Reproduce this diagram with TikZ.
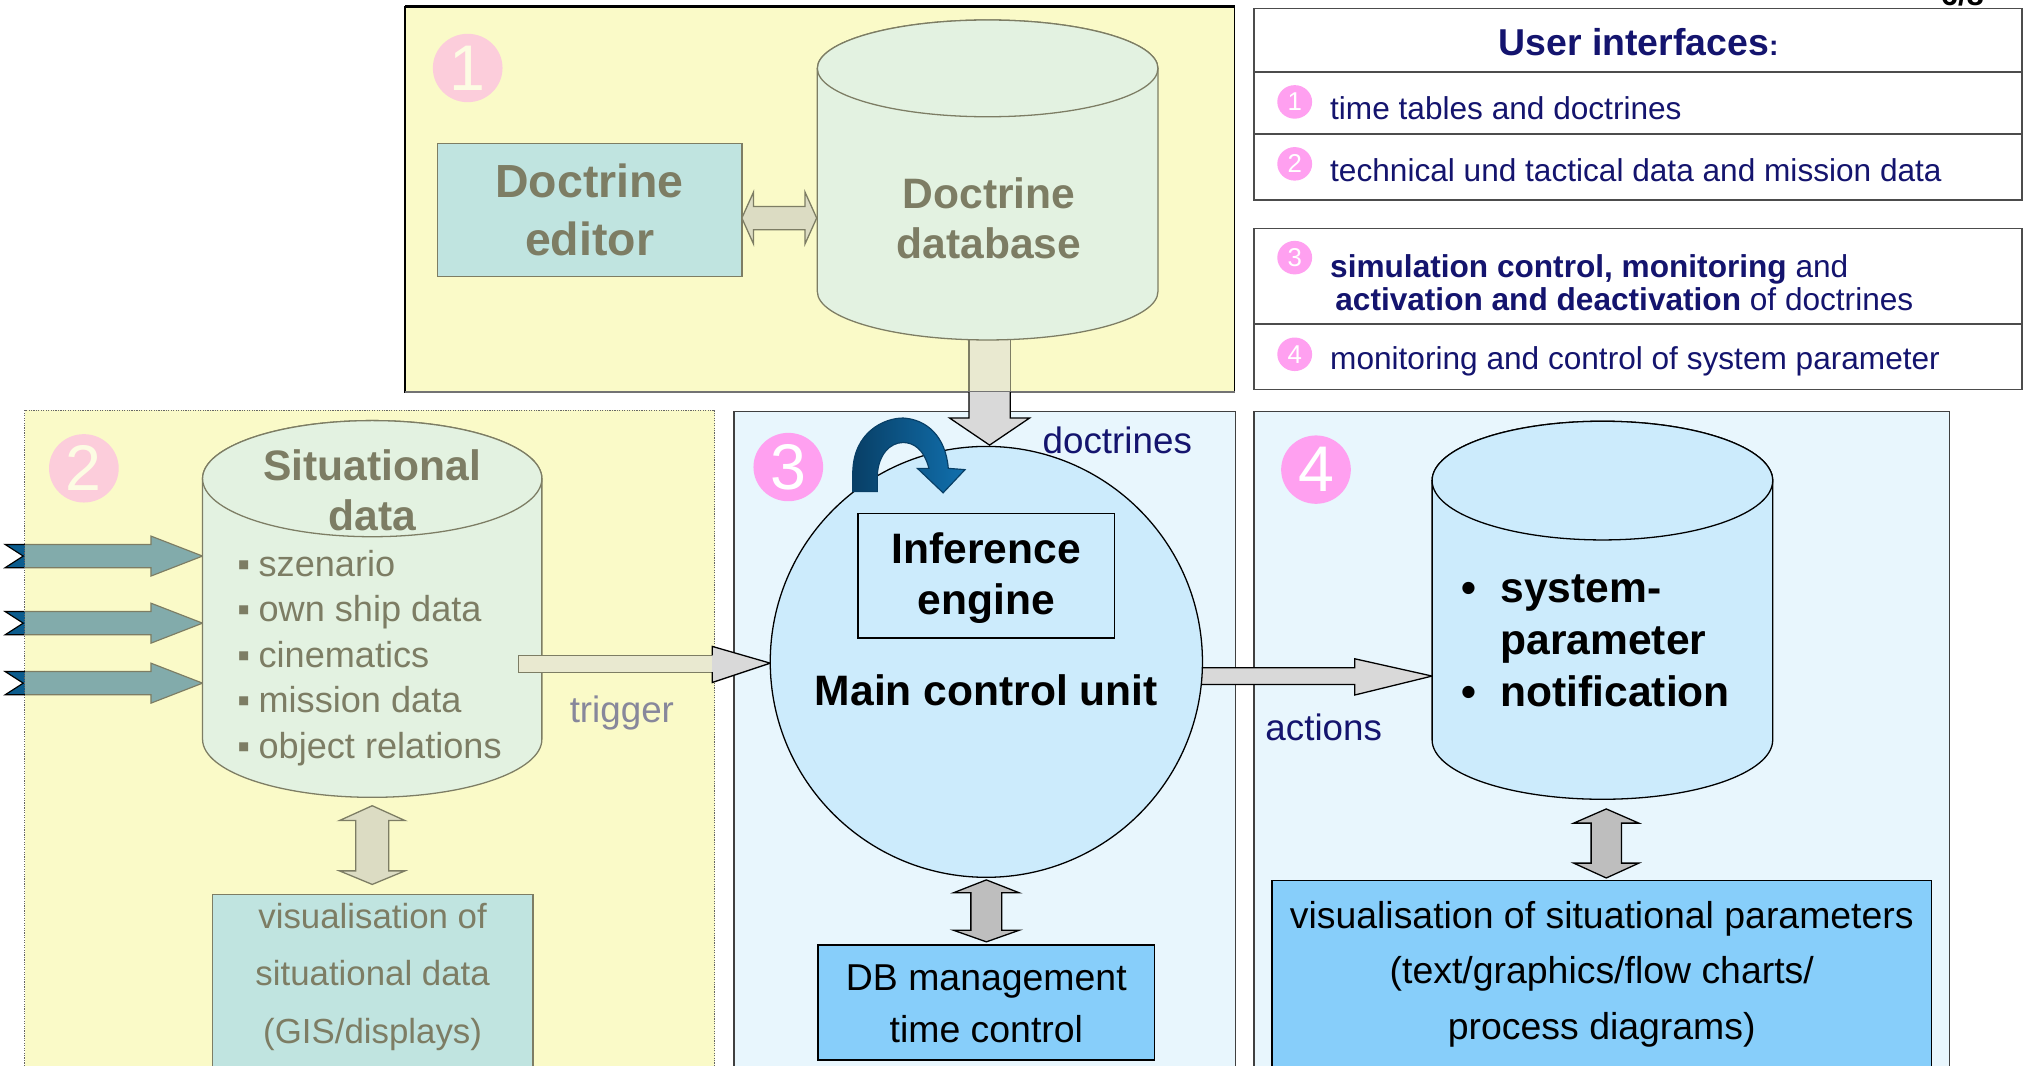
\documentclass[tikz,border=0pt]{standalone}
\usepackage{fontspec}
\setmainfont{Liberation Sans}
\usetikzlibrary{shapes.geometric}
\definecolor{pyel}{HTML}{FAFAC8}
\definecolor{pblue}{HTML}{E8F6FD}
\definecolor{cylb}{HTML}{CCEBFC}
\definecolor{boxb}{HTML}{87CEFA}
\definecolor{agrey}{HTML}{D9D9D9}
\definecolor{dgrey}{HTML}{BEBEBE}
\definecolor{navy}{HTML}{14146E}
\definecolor{pinkc}{HTML}{FFA0F0}
\definecolor{arrowblue}{HTML}{0B5C8E}
\definecolor{arrowdark}{HTML}{083F66}
\definecolor{arrowlight}{HTML}{1170AE}
\newcommand\fsz[2]{\fontsize{#1}{#2}\selectfont}
% cylinder: cx, rx, ry, ytop, ybottom, style
\newcommand\cylshape[6]{%
  \path[#6] (#1-#2,#4) -- (#1-#2,#5) arc[start angle=180,end angle=0,x radius=#2,y radius=#3]
     -- (#1+#2,#4) arc[start angle=0,end angle=-180,x radius=#2,y radius=#3] -- cycle;
  \path[#6] (#1,#4) ellipse [x radius=#2, y radius=#3];}
% vertical double arrow: cx, shaft half, head half, tip1, base1, base2, tip2, style
\newcommand\vdarrow[8]{%
  \path[#8] (#1,#4) -- (#1+#3,#5) -- (#1+#2,#5) -- (#1+#2,#6) -- (#1+#3,#6) -- (#1,#7)
     -- (#1-#3,#6) -- (#1-#2,#6) -- (#1-#2,#5) -- (#1-#3,#5) -- cycle;}
% incoming notched arrow: name, centre y
\newcommand\inarrow[2]{%
  \path[draw=black, line width=0.9pt, fill=arrowblue] (4,#2-9) -- (117,#2-9) -- (117,#2-15.5) -- (157,#2)
     -- (117,#2+15.5) -- (117,#2+9) -- (4,#2+9) -- (18,#2) -- cycle;
  \coordinate (#1) at (157,#2);}
\begin{document}
\begin{tikzpicture}[x=1pt,y=-1pt,
  txt/.style={inner sep=0pt, outer sep=0pt},
  navytxt/.style={txt, text=navy},
  pinkdot/.style={ellipse, fill=pinkc, text=white, inner sep=0pt},
  tbl/.style={draw=black!70, line width=1.2pt, fill=white},
  panelline/.style={draw=black!75, line width=1.3pt},
  grayarrow/.style={fill=agrey, draw=black, line width=1pt},
  dblarrow/.style={fill=dgrey, draw=black, line width=1pt},
  bluebox/.style={draw=black, line width=1pt, fill=boxb},
  cylstyle/.style={draw=black, line width=1pt, fill=cylb},
  rowtxt/.style={navytxt, anchor=west, font=\fsz{24.5}{26}, align=left},
  tnum/.style={pinkdot, minimum width=27pt, minimum height=26pt, font=\fsz{20}{20}},
  bignum/.style={pinkdot, minimum width=54pt, minimum height=53pt, font=\fsz{50}{50}},
]
\useasboundingbox (0,0) rectangle (1568,826);

% ---------- panel fills ----------
\fill[pyel] (314,5) rectangle (957,304);
\fill[pyel] (19,318) rectangle (554,830);
\path[fill=pblue, panelline] (569,319) rectangle (957.5,830);
\path[fill=pblue, panelline] (972,319) rectangle (1511,830);

% ---------- partial page number ----------
\node[txt, anchor=base, font=\fsz{24}{24}\bfseries] (pgno) at (1521,4) {6/8};

% ---------- user interface tables ----------
\path[tbl] (972,6.5) rectangle (1567.3,155);
\draw[draw=black!70, line width=1.2pt] (972,55.6) -- (1567.3,55.6);
\draw[draw=black!70, line width=1.2pt] (972,104) -- (1567.3,104);
\node[navytxt, font=\fsz{29}{34}\bfseries] (uititle) at (1270,32.5) {User interfaces\fsz{22}{26}:};
\node[tnum] (n1) at (1003.5,79) {1};
\node[rowtxt] (r1) at (1031,84) {time tables and doctrines};
\node[tnum] (n2) at (1003.5,127) {2};
\node[rowtxt] (r2) at (1031,131.8) {technical und tactical data and mission data};

\path[tbl] (972,177) rectangle (1567.3,302);
\draw[draw=black!70, line width=1.2pt] (972,251) -- (1567.3,251);
\node[tnum] (n3) at (1003.5,199.7) {3};
\node[rowtxt] (r3) at (1031,219) {\textbf{simulation control, monitoring} and\\\hspace{4pt}\textbf{activation and deactivation} of doctrines};
\node[tnum] (n4) at (1003.5,274.6) {4};
\node[rowtxt] (r4) at (1031,280) {monitoring and control of system parameter};

% ---------- panel 1 content (faded later) ----------
\node[bluebox, minimum width=236pt, minimum height=103.5pt, inner sep=0pt] (editor) at (457,162.75) {};
\node[txt, font=\fsz{36}{45}\bfseries, align=center] (editortxt) at (editor.center) {Doctrine\\editor};
\path[dblarrow] (575,169) -- (584,149) -- (584,160) -- (624,160) -- (624,149) -- (633,169)
   -- (624,189) -- (624,178) -- (584,178) -- (584,189) -- cycle;
\path[grayarrow] (751,240) -- (751,304) -- (783,304) -- (783,240) -- cycle;
\cylshape{765.5}{132}{37.5}{53}{226}{cylstyle}
\node[txt, font=\fsz{33}{39}\bfseries, align=center] (dbtxt) at (766.5,169) {Doctrine\\database};
\node[bignum] (p1) at (362.5,52.7) {1};

% ---------- panel 2 content (faded later) ----------
\inarrow{in1}{431}
\inarrow{in2}{483}
\inarrow{in3}{529.5}
\node[bignum] (p2) at (65,363) {2};
\cylshape{288.5}{131.5}{45}{371}{573}{cylstyle}
\node[txt, font=\fsz{33}{39.5}\bfseries, align=center] (sittitle) at (288.5,380) {Situational\\data};
\node[txt, anchor=west, align=left, font=\fsz{28}{35.3}] (sitlist) at (184,510) {%
\makebox[16.5pt][l]{▪}szenario\\
\makebox[16.5pt][l]{▪}own ship data\\
\makebox[16.5pt][l]{▪}cinematics\\
\makebox[16.5pt][l]{▪}mission data\\
\makebox[16.5pt][l]{▪}object relations};
\vdarrow{288.5}{12.8}{25.4}{624.5}{636}{675}{685.5}{dblarrow}
\node[bluebox, minimum width=248.5pt, minimum height=160pt, inner sep=0pt, anchor=north] (visL) at (288.8,692.6) {};
\node[txt, font=\fsz{27}{44.5}, align=center] (visLtxt) at (288.8,757) {visualisation of\\situational data\\(GIS/displays)};
\path[grayarrow] (402,508) -- (552,508) -- (552,521) -- (402,521) -- cycle;
\node[navytxt, font=\fsz{28.5}{30}] (trig) at (482,553) {trigger};

% ---------- fading overlays ----------
\fill[pyel, opacity=0.5] (314,5) rectangle (957,304);
\fill[pyel, opacity=0.5] (19,318) rectangle (554,830);

% ---------- panel 1 / 2 borders ----------
\draw[black, line width=1.1pt] (314,5) rectangle (957,304);
\draw[black, line width=2.4pt] (314,5) -- (957,5);
\draw[black!55, line width=1.8pt] (314,304) -- (957,304);
\draw[black!60, line width=0.9pt, densely dotted] (19,318) rectangle (554,830);

% ---------- panel 3 ----------
\path[grayarrow] (751,304) -- (751,324) -- (736,324) -- (767,345) -- (798,324) -- (783,324) -- (783,304);
\path[grayarrow] (552,508) -- (552,501) -- (597,514) -- (552,529) -- (552,521);
\path[grayarrow] (925,517.5) -- (1050,517.5) -- (1050,510.6) -- (1110,524) -- (1050,538.7) -- (1050,530.6) -- (925,530.6) -- cycle;
\node[ellipse, draw=black, line width=1pt, fill=cylb, minimum width=335pt, minimum height=334pt, inner sep=0pt] (mcu) at (764.5,513) {};
\node[draw=black, line width=1pt, fill=cylb, minimum width=199pt, minimum height=96.5pt, inner sep=0pt] (inf) at (764.5,446.25) {};
\node[txt, font=\fsz{33}{40}\bfseries, align=center] (inftxt) at (764.5,448) {Inference\\engine};
\node[txt, font=\fsz{33}{40}\bfseries] (mcutxt) at (764.5,535) {Main control unit};
\path[draw=arrowdark, line width=0.9pt, left color=arrowdark, right color=arrowlight]
  (680,381) -- (661,381) -- (661,365) .. controls (662,335) and (685,324) .. (700,324)
  .. controls (718,325) and (733,338) .. (735,363) -- (748,364) -- (731,382) -- (711,363) -- (720,363)
  .. controls (716,348) and (708,343) .. (700,343) .. controls (690,343) and (681,352) .. (680,368) -- cycle;
\node[bignum] (p3) at (611,362) {3};
\node[navytxt, font=\fsz{28.5}{30}] (doctr) at (866,341) {doctrines};
\vdarrow{764.5}{12}{25.5}{682}{692}{721}{730}{dblarrow}
\node[bluebox, minimum width=261pt, minimum height=89pt, inner sep=0pt] (dbm) at (764.5,777) {};
\node[txt, font=\fsz{29}{40}, align=center] (dbmtxt) at (764.5,778) {DB management\\time control};

% ---------- panel 4 ----------
\node[bignum] (p4) at (1020,364) {4};
\cylshape{1242}{132}{46}{372.5}{573.5}{cylstyle}
\node[txt, anchor=west, align=left, font=\fsz{33}{40.3}\bfseries] (sysp) at (1133,497) {%
\makebox[30pt][l]{•}system-\\\hspace*{30pt}parameter\\\makebox[30pt][l]{•}notification};
\node[navytxt, font=\fsz{28.5}{30}] (act) at (1026,564) {actions};
\vdarrow{1245}{11.75}{25.25}{627}{638}{669}{680.5}{dblarrow}
\node[bluebox, minimum width=511pt, minimum height=160pt, inner sep=0pt, anchor=north] (visR) at (1241.5,682) {};
\node[txt, font=\fsz{29}{43}, align=center] (visRtxt) at (1241.5,755) {visualisation of situational parameters\\(text/graphics/flow charts/\\process diagrams)};
\end{tikzpicture}
\end{document}
